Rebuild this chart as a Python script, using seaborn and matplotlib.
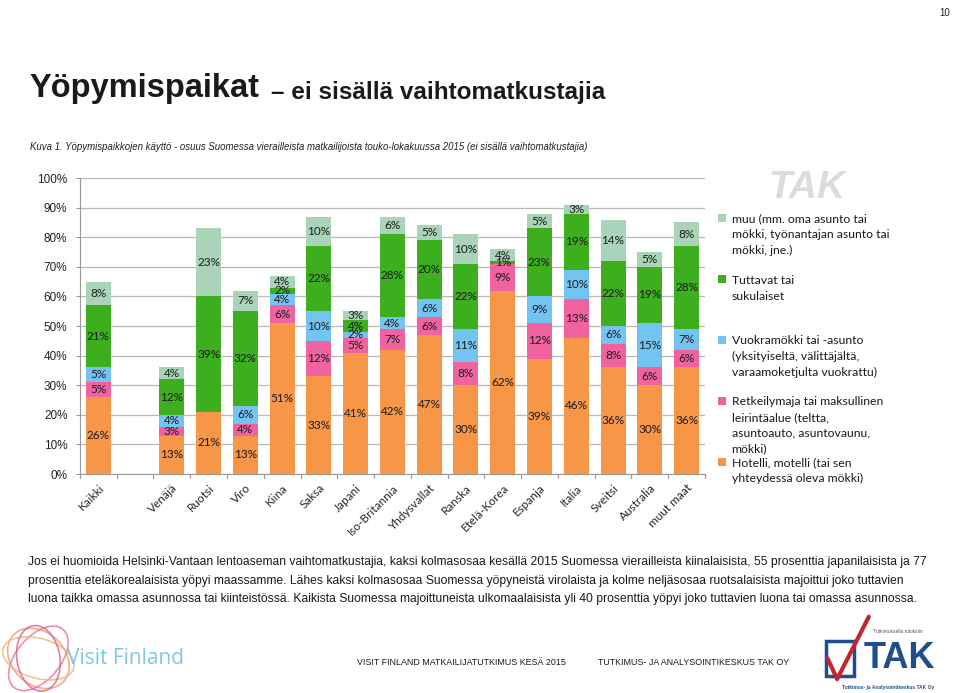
import numpy as np
import pandas as pd
import seaborn as sns
import matplotlib.pyplot as plt
from matplotlib.patches import Rectangle, Ellipse
from matplotlib.lines import Line2D

# data (percent), stacked bottom -> top
maat = ['Kaikki', '', 'Venäjä', 'Ruotsi', 'Viro', 'Kiina', 'Saksa', 'Japani', 'Iso-Britannia',
        'Yhdysvallat', 'Ranska', 'Etelä-Korea', 'Espanja', 'Italia', 'Sveitsi', 'Australia', 'muut maat']
hotelli = [26, 0, 13, 21, 13, 51, 33, 41, 42, 47, 30, 62, 39, 46, 36, 30, 36]
retkeily = [5, 0, 3, 0, 4, 6, 12, 5, 7, 6, 8, 9, 12, 13, 8, 6, 6]
vuokra = [5, 0, 4, 0, 6, 4, 10, 2, 4, 6, 11, 0, 9, 10, 6, 15, 7]
tuttavat = [21, 0, 12, 39, 32, 2, 22, 4, 28, 20, 22, 1, 23, 19, 22, 19, 28]
muu = [8, 0, 4, 23, 7, 4, 10, 3, 6, 5, 10, 4, 5, 3, 14, 5, 8]

sarjat = ['Hotelli', 'Retkeily', 'Vuokra', 'Tuttavat', 'Muu']
arvot = [hotelli, retkeily, vuokra, tuttavat, muu]
varit = ['#F79646', '#F062A0', '#74C4F2', '#3DAF1E', '#A9D4B7']

legend_texts = [
    'muu (mm. oma asunto tai\nmökki, työnantajan asunto tai\nmökki, jne.)',
    'Tuttavat tai\nsukulaiset',
    'Vuokramökki tai -asunto\n(yksityiseltä, välittäjältä,\nvaraamoketjulta vuokrattu)',
    'Retkeilymaja tai maksullinen\nleirintäalue (teltta,\nasuntoauto, asuntovaunu,\nmökki)',
    'Hotelli, motelli (tai sen\nyhteydessä oleva mökki)',
]

df = pd.DataFrame({'maa': maat})
for s, v in zip(sarjat, arvot):
    df[s] = v

sns.set_style('white')
plt.rcParams['font.family'] = ['Liberation Sans', 'DejaVu Sans']

fig = plt.figure(figsize=(9.6, 6.93), dpi=100)
ax = fig.add_axes([0.0833, 0.316, 0.651, 0.427])

pos = np.arange(len(maat))
bottom = np.zeros(len(maat))
for s, c in zip(sarjat, varit):
    vals = df[s].to_numpy(dtype=float)
    sns.barplot(x=pos, y=vals, bottom=bottom, color=c, width=0.68, ax=ax,
                native_scale=True, saturation=1, linewidth=0, zorder=3)
    for xi, b, v in zip(pos, bottom, vals):
        if v > 0:
            ax.text(xi, b + v / 2, f'{int(v)}%', ha='center', va='center',
                    fontsize=8.5, family=['Lato', 'DejaVu Sans'], color='#1a1a1a', zorder=4)
    bottom = bottom + vals

ax.set_xlim(-0.5, len(maat) - 0.5)
ax.set_ylim(0, 100)
ax.set_yticks(np.arange(0, 101, 10))
ax.set_yticklabels([f'{t}%' for t in range(0, 101, 10)], fontsize=8.5, color='#222222')
ax.yaxis.grid(True, color='#b8b8b8', linewidth=0.9, zorder=0)
ax.set_xticks(pos)
ax.set_xticklabels(maat, rotation=45, ha='right', rotation_mode='anchor',
                   fontsize=8.5, family=['Lato', 'DejaVu Sans'])
ax.tick_params(axis='x', length=0, pad=6)
ax.tick_params(axis='y', length=3, color='#999999', pad=6, left=True)
for xb in np.arange(-0.5, len(maat), 1.0):
    ax.plot([xb, xb], [0, -1.3], color='#999999', lw=0.9, clip_on=False)
for sp in ['top', 'right']:
    ax.spines[sp].set_visible(False)
ax.spines['left'].set_color('#999999')
ax.spines['bottom'].set_color('#999999')
ax.set_xlabel('')
ax.set_ylabel('')

# titles
fig.text(0.031, 0.872, 'Yöpymispaikat', fontsize=23.5, weight='bold', color='#1a1a1a', va='center')
fig.text(0.282, 0.866, '– ei sisällä vaihtomatkustajia', fontsize=17.5, weight='bold',
         color='#1a1a1a', va='center')
fig.text(0.031, 0.788, 'Kuva 1. Yöpymispaikkojen käyttö - osuus Suomessa vierailleista matkailijoista '
         'touko-lokakuussa 2015 (ei sisällä vaihtomatkustajia)', fontsize=6.9, style='italic',
         color='#222222', va='center')
fig.text(0.99, 0.988, '10', fontsize=7, ha='right', va='top', color='#222222')

# watermark behind the legend
fig.text(0.84, 0.728, 'TAK', fontsize=28, weight='bold', style='italic', color='#dcdcdc',
         ha='center', va='center', zorder=0)

# legend
leg_y = [0.692, 0.603, 0.516, 0.428, 0.340]
for (t, c, y) in zip(legend_texts, varit[::-1], leg_y):
    fig.patches.append(Rectangle((0.748, y - 0.012), 0.0085, 0.0115, transform=fig.transFigure,
                                 facecolor=c, edgecolor='none'))
    fig.text(0.762, y, t, fontsize=8.8, va='top', family=['Lato', 'DejaVu Sans'],
             color='#1a1a1a', linespacing=1.5)

# paragraph
kappale = ('Jos ei huomioida Helsinki-Vantaan lentoaseman vaihtomatkustajia, kaksi kolmasosaa kesällä 2015 '
           'Suomessa vierailleista kiinalaisista, 55 prosenttia japanilaisista ja 77\n'
           'prosenttia eteläkorealaisista yöpyi maassamme. Lähes kaksi kolmasosaa Suomessa yöpyneistä '
           'virolaista ja kolme neljäsosaa ruotsalaisista majoittui joko tuttavien\n'
           'luona taikka omassa asunnossa tai kiinteistössä. Kaikista Suomessa majoittuneista '
           'ulkomaalaisista yli 40 prosenttia yöpyi joko tuttavien luona tai omassa asunnossa.')
fig.text(0.029, 0.197, kappale, fontsize=8.7, va='top', color='#1a1a1a', linespacing=1.72)

# footer
fig.text(0.372, 0.044, 'VISIT FINLAND MATKAILIJATUTKIMUS KESÄ 2015', fontsize=6.4,
         va='center', color='#1a1a1a')
fig.text(0.623, 0.044, 'TUTKIMUS- JA ANALYSOINTIKESKUS TAK OY', fontsize=6.4,
         va='center', color='#1a1a1a')
fig.text(0.07, 0.05, 'Visit Finland', fontsize=15, color='#7fc6ea', va='center',
         family=['Open Sans', 'DejaVu Sans'])
for w, h, a, c in [(0.06, 0.09, 20, '#f09a6a'), (0.05, 0.1, -25, '#e8709a'),
                   (0.055, 0.08, 60, '#f4b07a'), (0.045, 0.095, 5, '#dd5b9a')]:
    fig.patches.append(Ellipse((0.04, 0.05), w, h, angle=a, transform=fig.transFigure,
                               fill=False, edgecolor=c, linewidth=1.2, alpha=0.8))
fig.patches.append(Rectangle((0.86, 0.025), 0.03, 0.05, transform=fig.transFigure,
                             fill=False, edgecolor='#1f4e8c', linewidth=2.5))
fig.lines.append(Line2D([0.862, 0.872, 0.905], [0.05, 0.02, 0.11], transform=fig.transFigure,
                        color='#c0282d', linewidth=3))
fig.text(0.937, 0.05, 'TAK', fontsize=26, weight='bold', color='#1f4e8c',
         ha='center', va='center')
fig.text(0.935, 0.087, 'Tutkimuksella tuloksiin', fontsize=3.5, color='#555555', ha='center')
fig.text(0.925, 0.006, 'Tutkimus- ja Analysointikeskus TAK Oy', fontsize=3.5, weight='bold',
         color='#1f4e8c', ha='center')

fig.savefig('out.png', dpi=100)
